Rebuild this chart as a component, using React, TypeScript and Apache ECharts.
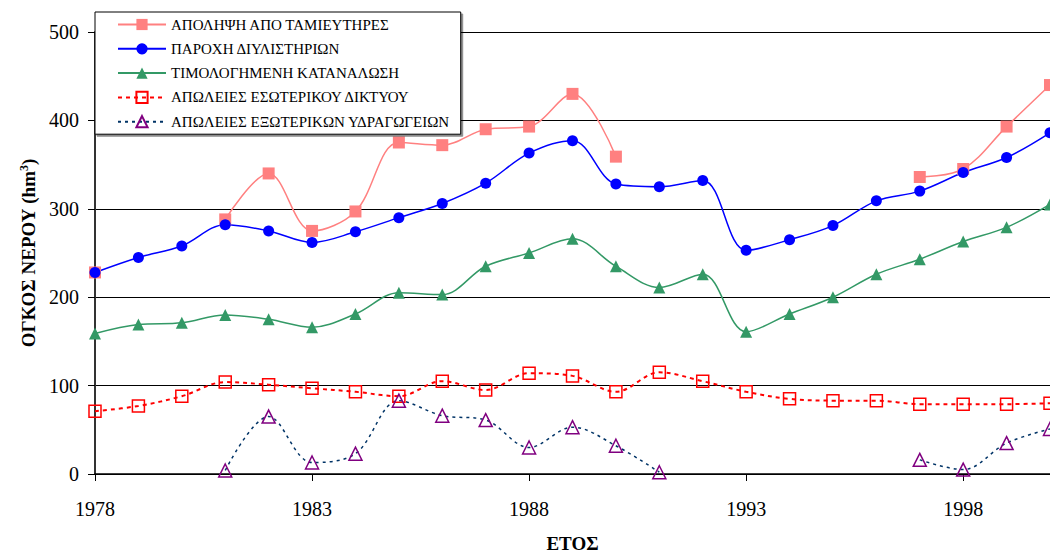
import React, { useEffect, useRef } from "react";
import * as echarts from "echarts";

const years = [
  "1978", "1979", "1980", "1981", "1982", "1983", "1984", "1985", "1986", "1987", "1988", "1989",
  "1990", "1991", "1992", "1993", "1994", "1995", "1996", "1997", "1998", "1999", "2000",
];

const seriesNames = [
  "ΑΠΟΛΗΨΗ ΑΠΟ ΤΑΜΙΕΥΤΗΡΕΣ",
  "ΠΑΡΟΧΗ ΔΙΥΛΙΣΤΗΡΙΩΝ",
  "ΤΙΜΟΛΟΓΗΜΕΝΗ ΚΑΤΑΝΑΛΩΣΗ",
  "ΑΠΩΛΕΙΕΣ ΕΣΩΤΕΡΙΚΟΥ ΔΙΚΤΥΟΥ",
  "ΑΠΩΛΕΙΕΣ ΕΞΩΤΕΡΙΚΩΝ ΥΔΡΑΓΩΓΕΙΩΝ",
];

const reservoirs = [
  228, null, null, 288, 340, 275, 297, 375, 372, 390, 393, 430,
  359, null, null, null, null, null, null, 336, 345, 393, 440,
];
const treatment = [
  228, 245, 258, 282, 275, 262, 274, 290, 306, 329, 363, 377,
  328, 325, 332, 253, 265, 281, 309, 320, 341, 358, 386,
];
const billed = [
  159, 169, 171, 180, 175, 166, 181, 205, 203, 235, 250, 266,
  235, 211, 226, 161, 181, 200, 226, 243, 263, 279, 305,
];
const internalLoss = [
  71, 77, 88, 104, 101, 97, 93, 88, 105, 95, 114, 111,
  93, 115, 105, 93, 85, 83, 83, 79, 79, 79, 80,
];
const externalLoss = [
  null, null, null, 4, 65, 13, 23, 83, 66, 61, 30, 53,
  32, 2, null, null, null, null, null, 16, 5, 35, 51,
];

const yTicks = [0, 100, 200, 300, 400, 500];

const FONT = "Liberation Serif";

export default function App() {
  const ref = useRef<HTMLDivElement>(null);

  useEffect(() => {
    if (!ref.current) return;
    const chart = echarts.init(ref.current, null, { renderer: "svg" });
    const common = {
      type: "line",
      smooth: 0.35,
      showSymbol: true,
      showAllSymbol: true,
      connectNulls: false,
      z: 2,
    };
    chart.setOption({
      animation: false,
      backgroundColor: "#ffffff",
      textStyle: { fontFamily: FONT },
      legend: {
        orient: "vertical",
        left: 95,
        top: 12,
        padding: [5, 11, 5, 22],
        itemWidth: 48,
        itemHeight: 14,
        itemGap: 9.3,
        backgroundColor: "#ffffff",
        borderColor: "#000000",
        borderWidth: 1,
        borderRadius: 0,
        shadowColor: "rgba(0,0,0,0.45)",
        shadowOffsetX: 2,
        shadowOffsetY: 2,
        shadowBlur: 1,
        textStyle: { fontFamily: FONT, fontSize: 15, color: "#000" },
        data: seriesNames,
        z: 10,
      },
      grid: { left: 95, top: 32, width: 959, height: 444 },
      xAxis: {
        type: "category",
        data: years,
        boundaryGap: false,
        name: "ΕΤΟΣ",
        nameLocation: "middle",
        nameGap: 60,
        nameTextStyle: { fontFamily: FONT, fontSize: 19, fontWeight: "bold", color: "#000" },
        axisLine: { lineStyle: { color: "#000", width: 1.5 } },
        axisTick: { interval: 4, length: 7, lineStyle: { color: "#000" } },
        axisLabel: { interval: 4, fontFamily: FONT, fontSize: 20, color: "#000", margin: 25 },
        splitLine: { show: false },
      },
      yAxis: {
        type: "value",
        min: yTicks[0],
        max: yTicks[yTicks.length - 1],
        interval: 100,
        name: "ΟΓΚΟΣ ΝΕΡΟΥ (hm{sup|3})",
        nameLocation: "middle",
        nameGap: 50,
        nameRotate: 90,
        nameTextStyle: {
          fontFamily: FONT,
          fontSize: 19,
          fontWeight: "bold",
          color: "#000",
          rich: {
            sup: { fontFamily: FONT, fontSize: 12, fontWeight: "bold", color: "#000", verticalAlign: "bottom", padding: [0, 0, 10, 0] },
          },
        },
        axisLine: { show: true, lineStyle: { color: "#333", width: 2 } },
        axisTick: { show: true, length: 7, lineStyle: { color: "#000" } },
        axisLabel: { fontFamily: FONT, fontSize: 20, color: "#000", margin: 16 },
        splitLine: { show: true, lineStyle: { color: "#000", width: 1 } },
      },
      series: [
        {
          ...common,
          name: seriesNames[0],
          data: reservoirs,
          symbol: "rect",
          symbolSize: 12,
          itemStyle: { color: "#FF8080" },
          lineStyle: { color: "#FF8080", width: 1.5 },
        },
        {
          ...common,
          name: seriesNames[1],
          data: treatment,
          symbol: "circle",
          symbolSize: 11,
          itemStyle: { color: "#0000FF" },
          lineStyle: { color: "#0000FF", width: 1.5 },
        },
        {
          ...common,
          name: seriesNames[2],
          data: billed,
          symbol: "triangle",
          symbolSize: 12,
          itemStyle: { color: "#339966" },
          lineStyle: { color: "#339966", width: 1.5 },
        },
        {
          ...common,
          name: seriesNames[3],
          data: internalLoss,
          symbol: "rect",
          symbolSize: 12,
          itemStyle: { color: "rgba(255,255,255,0)", borderColor: "#FF0000", borderWidth: 1.5 },
          lineStyle: { color: "#FF0000", width: 2, type: [4, 4] },
        },
        {
          ...common,
          name: seriesNames[4],
          data: externalLoss,
          symbol: "triangle",
          symbolSize: 13,
          itemStyle: { color: "rgba(255,255,255,0)", borderColor: "#800080", borderWidth: 1.5 },
          lineStyle: { color: "#003366", width: 1.5, type: [3, 4] },
        },
      ],
    });
    return () => chart.dispose();
  }, []);

  return (
    <div
      ref={ref}
      style={{ position: "fixed", left: 0, top: 0, width: 1050, height: 558, background: "#fff" }}
    />
  );
}
